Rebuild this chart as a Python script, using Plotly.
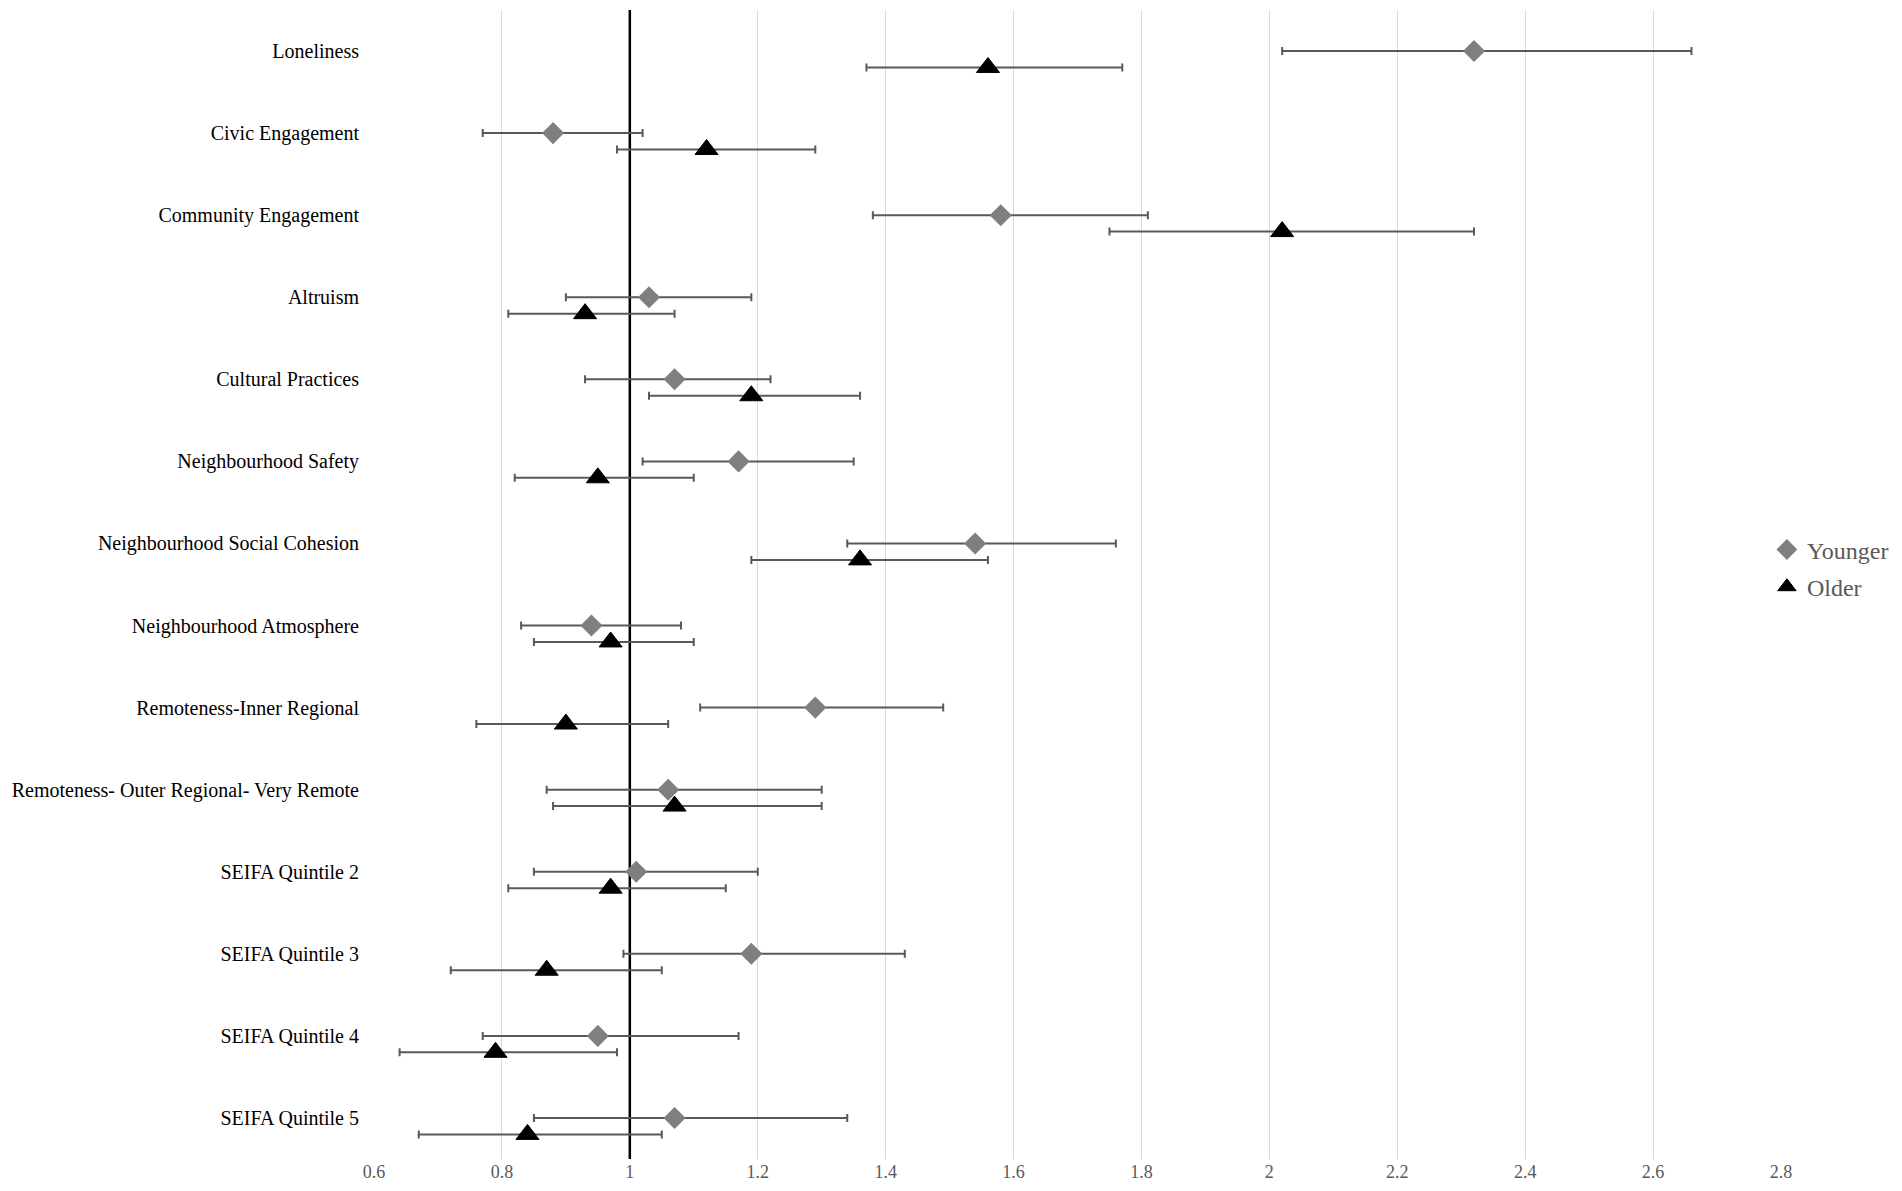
import plotly.graph_objects as go

# Odds ratios with 95% CI
categories = [
    "Loneliness", "Civic Engagement", "Community Engagement", "Altruism",
    "Cultural Practices", "Neighbourhood Safety", "Neighbourhood Social Cohesion",
    "Neighbourhood Atmosphere", "Remoteness-Inner Regional",
    "Remoteness- Outer Regional- Very Remote", "SEIFA Quintile 2",
    "SEIFA Quintile 3", "SEIFA Quintile 4", "SEIFA Quintile 5",
]

younger_or = [2.32, 0.88, 1.58, 1.03, 1.07, 1.17, 1.54, 0.94, 1.29, 1.06, 1.01, 1.19, 0.95, 1.07]
younger_lo = [2.02, 0.77, 1.38, 0.90, 0.93, 1.02, 1.34, 0.83, 1.11, 0.87, 0.85, 0.99, 0.77, 0.85]
younger_hi = [2.66, 1.02, 1.81, 1.19, 1.22, 1.35, 1.76, 1.08, 1.49, 1.30, 1.20, 1.43, 1.17, 1.34]

older_or = [1.56, 1.12, 2.02, 0.93, 1.19, 0.95, 1.36, 0.97, 0.90, 1.07, 0.97, 0.87, 0.79, 0.84]
older_lo = [1.37, 0.98, 1.75, 0.81, 1.03, 0.82, 1.19, 0.85, 0.76, 0.88, 0.81, 0.72, 0.64, 0.67]
older_hi = [1.77, 1.29, 2.32, 1.07, 1.36, 1.10, 1.56, 1.10, 1.06, 1.30, 1.15, 1.05, 0.98, 1.05]

x_ticks = [0.6, 0.8, 1, 1.2, 1.4, 1.6, 1.8, 2, 2.2, 2.4, 2.6, 2.8]

serif = "Liberation Serif, Times New Roman, serif"
bar_color = "#595959"

rows = list(range(len(categories)))
offset = 0.2  # older row sits a bit below the younger one
y_range = [len(categories) - 0.5, -0.5]

fig = go.Figure()

# reference line at OR = 1, as the first trace so it sits above the grid but under the data
fig.add_trace(go.Scatter(
    x=[1, 1], y=y_range, mode="lines", showlegend=False, hoverinfo="skip",
    line=dict(color="black", width=2.5),
))

fig.add_trace(go.Scatter(
    x=younger_or, y=rows, mode="markers", name="Younger",
    legendgroup="y",
    marker=dict(symbol="diamond", size=17, color="#7f7f7f"),
    error_x=dict(type="data", symmetric=False,
                 array=[h - v for h, v in zip(younger_hi, younger_or)],
                 arrayminus=[v - l for v, l in zip(younger_or, younger_lo)],
                 color=bar_color, thickness=2, width=4),
))

fig.add_trace(go.Scatter(
    x=older_or, y=[r + offset for r in rows], mode="markers", name="Older",
    legendgroup="o",
    marker=dict(symbol="triangle-up", size=20, color="black",
                line=dict(color="black", width=1)),
    error_x=dict(type="data", symmetric=False,
                 array=[h - v for h, v in zip(older_hi, older_or)],
                 arrayminus=[v - l for v, l in zip(older_or, older_lo)],
                 color=bar_color, thickness=2, width=4),
))

# page body has an 8px margin, so the figure is sized a bit smaller
fig.update_layout(
    width=1894, height=1183,
    margin=dict(l=366, r=121, t=2, b=32),
    paper_bgcolor="white", plot_bgcolor="white",
    font=dict(family=serif, color="black"),
    showlegend=True,
    legend=dict(x=0.99, xanchor="left", y=0.514, yanchor="middle",
                font=dict(size=24, color=bar_color, family=serif),
                tracegroupgap=3, bgcolor="rgba(0,0,0,0)"),
)

fig.update_xaxes(
    range=[0.6, 2.8], tickvals=x_ticks, ticktext=[f"{t:g}" for t in x_ticks],
    showgrid=True, gridcolor="#d9d9d9", gridwidth=1,
    zeroline=False, showline=False, ticks="",
    tickfont=dict(size=18, color=bar_color, family=serif),
)

fig.update_yaxes(
    range=y_range,
    tickvals=rows, ticktext=categories,
    showgrid=False, zeroline=False, showline=False, ticks="",
    ticklabelstandoff=14,
    tickfont=dict(size=20, color="black", family=serif),
)

fig.write_html("out.html")
